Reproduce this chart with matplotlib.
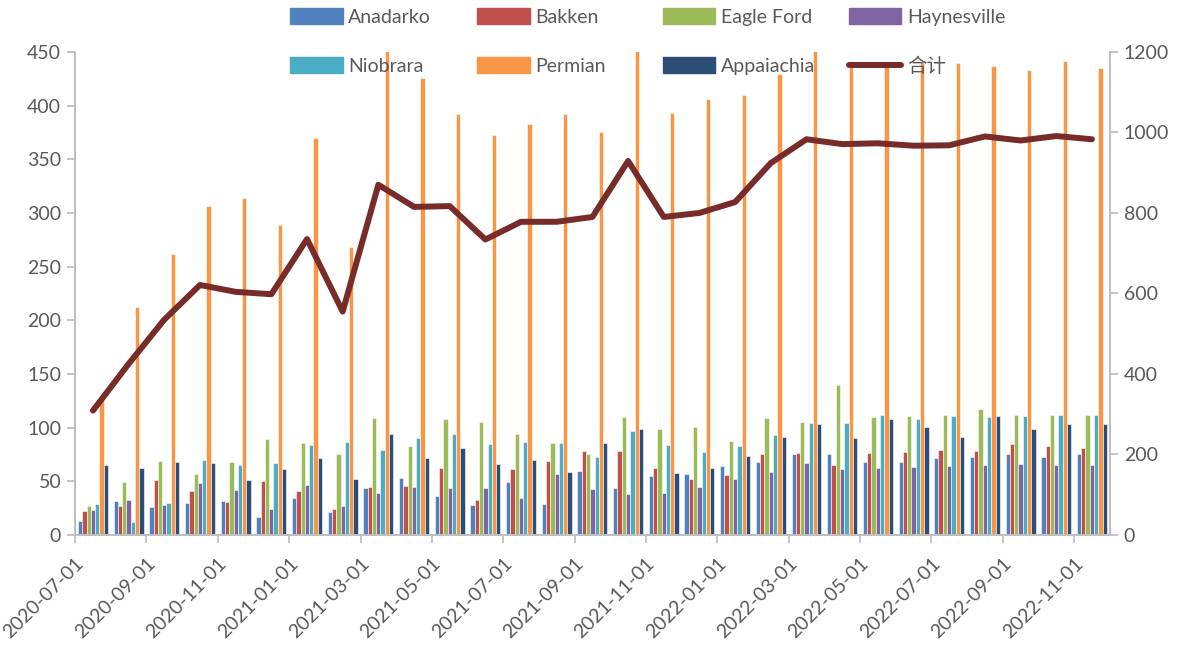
import numpy as np
import matplotlib
matplotlib.use('Agg')
import matplotlib.pyplot as plt
from matplotlib.lines import Line2D
from matplotlib.patches import Patch

plt.rcParams['font.family'] = ['Lato', 'Noto Sans CJK SC', 'DejaVu Sans']

months = ['2020-07-01', '2020-08-01', '2020-09-01', '2020-10-01', '2020-11-01', '2020-12-01',
          '2021-01-01', '2021-02-01', '2021-03-01', '2021-04-01', '2021-05-01', '2021-06-01',
          '2021-07-01', '2021-08-01', '2021-09-01', '2021-10-01', '2021-11-01', '2021-12-01',
          '2022-01-01', '2022-02-01', '2022-03-01', '2022-04-01', '2022-05-01', '2022-06-01',
          '2022-07-01', '2022-08-01', '2022-09-01', '2022-10-01', '2022-11-01']

anadarko = [13, 32, 26, 30, 32, 17, 34, 21, 44, 53, 36, 28, 49, 29, 60, 44, 55, 57, 64, 68, 75, 75, 68, 68, 72, 73, 75, 73, 75]
bakken = [22, 27, 51, 41, 31, 50, 41, 24, 45, 46, 62, 33, 61, 69, 78, 78, 62, 52, 56, 75, 76, 65, 76, 77, 79, 78, 85, 83, 81]
eagle_ford = [27, 49, 69, 57, 68, 89, 86, 75, 109, 83, 108, 105, 94, 86, 75, 110, 99, 101, 88, 109, 105, 140, 110, 111, 112, 117, 112, 112, 112]
haynesville = [23, 33, 28, 48, 42, 24, 47, 27, 39, 45, 44, 44, 34, 57, 43, 38, 39, 45, 52, 59, 67, 61, 62, 63, 64, 65, 66, 65, 65]
niobrara = [29, 12, 30, 70, 65, 67, 84, 87, 79, 90, 94, 85, 87, 86, 73, 97, 84, 77, 83, 93, 104, 104, 112, 108, 111, 110, 111, 112, 112]
permian = [128, 212, 262, 306, 314, 289, 370, 268, 460, 426, 392, 373, 383, 392, 375, 463, 393, 406, 410, 429, 451, 436, 438, 441, 440, 437, 433, 442, 435]
appaiachia = [65, 62, 68, 67, 51, 61, 72, 52, 94, 72, 81, 66, 70, 59, 86, 99, 58, 62, 74, 91, 103, 90, 108, 101, 91, 111, 99, 103, 103]
total = [309, 425, 535, 621, 604, 598, 735, 555, 870, 815, 817, 734, 778, 778, 790, 929, 790, 800, 827, 924,
         983, 971, 973, 967, 968, 990, 980, 991, 983]

series = [('Anadarko', anadarko, '#4F81BD'),
          ('Bakken', bakken, '#C0504D'),
          ('Eagle Ford', eagle_ford, '#9BBB59'),
          ('Haynesville', haynesville, '#8064A2'),
          ('Niobrara', niobrara, '#4BACC6'),
          ('Permian', permian, '#F79646'),
          ('Appaiachia', appaiachia, '#2C4D75')]
line_color = '#772C2A'
txt = '#595959'
axis_c = '#BFBFBF'

fig = plt.figure(figsize=(11.92, 6.49), dpi=100)
ax = fig.add_axes([0.063, 0.1757, 0.868, 0.7443])
x = np.arange(len(months)) + 0.5
w = 0.12
for k, (name, vals, col) in enumerate(series):
    ax.bar(x + (k - 3) * w, vals, width=w, color=col, edgecolor='white', linewidth=0.4)

ax.set_xlim(0, len(months))
ax.set_ylim(0, 450)
ax.set_yticks(np.arange(0, 451, 50))
ax.set_xticks(np.arange(0, len(months), 2))
ax.set_xticklabels(months[::2], rotation=45, ha='right', rotation_mode='anchor')

ax2 = ax.twinx()
ax2.plot(x, total, color=line_color, lw=4.3, solid_capstyle='round', solid_joinstyle='round')
ax2.set_ylim(0, 1200)
ax2.set_yticks(np.arange(0, 1201, 200))

for a in (ax, ax2):
    a.spines['top'].set_visible(False)
    for s in ('left', 'right', 'bottom'):
        a.spines[s].set_color(axis_c)
        a.spines[s].set_linewidth(1.3)
    a.tick_params(colors=axis_c, labelcolor=txt, labelsize=14, length=6, width=1.3)
ax.tick_params(axis='x', pad=8)
ax.tick_params(axis='y', pad=4)
ax2.tick_params(axis='y', pad=4)

# legend: 4 equally spaced columns, 2 rows (Excel style)
handles = [Patch(color=c) for _, _, c in series] + [Line2D([], [], color=line_color, lw=4.3, solid_capstyle='round')]
labels = [s[0] for s in series] + ['合计']
col_x = [0.2433, 0.4002, 0.5562, 0.7122]
for c in range(4):
    leg = fig.legend([handles[c], handles[c + 4]], [labels[c], labels[c + 4]], ncol=1, loc='upper left',
                     bbox_to_anchor=(col_x[c], 0.9877), frameon=False, fontsize=14, labelcolor=txt,
                     borderpad=0, borderaxespad=0, handlelength=2.7, handleheight=0.9,
                     handletextpad=0.28, labelspacing=1.6)

fig.savefig('out.png', dpi=100)
